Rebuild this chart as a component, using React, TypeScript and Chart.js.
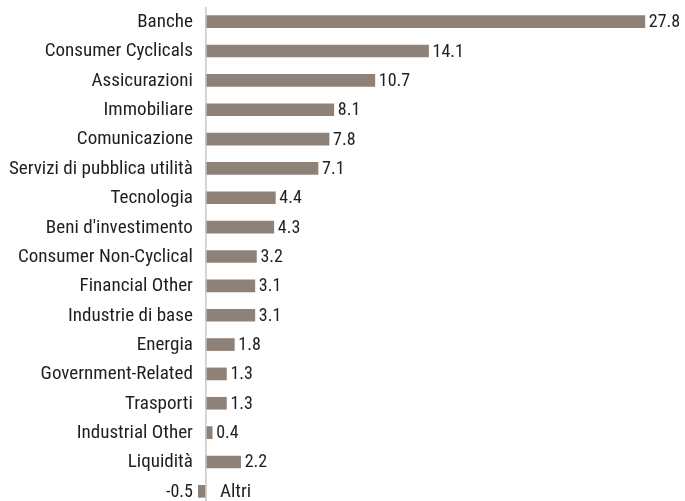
import React, { useEffect, useRef } from "react";
import { Chart, registerables } from "chart.js";

Chart.register(...registerables);

const categories = [
  "Banche",
  "Consumer Cyclicals",
  "Assicurazioni",
  "Immobiliare",
  "Comunicazione",
  "Servizi di pubblica utilità",
  "Tecnologia",
  "Beni d'investimento",
  "Consumer Non-Cyclical",
  "Financial Other",
  "Industrie di base",
  "Energia",
  "Government-Related",
  "Trasporti",
  "Industrial Other",
  "Liquidità",
  "Altri",
];
const values = [27.8, 14.1, 10.7, 8.1, 7.8, 7.1, 4.4, 4.3, 3.2, 3.1, 3.1, 1.8, 1.3, 1.3, 0.4, 2.2, -0.5];

const FONT = '"Liberation Sans Narrow", "Arial Narrow", "Roboto Condensed", sans-serif';
const BAR_COLOR = "#8E8177";

function drawText(ctx: any, text: string, x: number, y: number, align: "left" | "right", sx: number) {
  ctx.save();
  ctx.translate(x, y);
  ctx.scale(sx, 1);
  ctx.textAlign = align;
  ctx.fillText(text, 0, 0);
  ctx.restore();
}

const labelPlugin = {
  id: "customLabels",
  afterDatasetsDraw(chart: any) {
    const ctx = chart.ctx;
    const xs = chart.scales.x;
    const area = chart.chartArea;
    const zero = xs.getPixelForValue(0);
    ctx.save();
    ctx.strokeStyle = "#C8C8C8";
    ctx.lineWidth = 1.5;
    ctx.beginPath();
    ctx.moveTo(zero, area.top);
    ctx.lineTo(zero, area.bottom);
    ctx.stroke();

    const meta = chart.getDatasetMeta(0);
    ctx.fillStyle = "#1f1f1f";
    ctx.textBaseline = "middle";
    meta.data.forEach((bar: any, i: number) => {
      const v = values[i];
      const y = bar.y + 1;
      const end = xs.getPixelForValue(v);
      const valText = v.toFixed(1);
      if (v >= 0) {
        ctx.font = `17.5px ${FONT}`;
        drawText(ctx, categories[i], zero - 13, y, "right", 1.09);
        ctx.font = `18px ${FONT}`;
        drawText(ctx, valText, end + 4, y, "left", 1.0);
      } else {
        ctx.font = `17.5px ${FONT}`;
        drawText(ctx, categories[i], zero + 14, y, "left", 1.09);
        ctx.font = `18px ${FONT}`;
        drawText(ctx, valText, end - 5, y, "right", 1.0);
      }
    });
    ctx.restore();
  },
};

export default function App() {
  const ref = useRef<HTMLCanvasElement | null>(null);
  useEffect(() => {
    if (!ref.current) return;
    const chart = new Chart(ref.current, {
      type: "bar",
      data: {
        labels: categories,
        datasets: [
          {
            data: values,
            backgroundColor: BAR_COLOR,
            barThickness: 12,
          },
        ],
      },
      options: {
        indexAxis: "y",
        animation: false,
        responsive: false,
        layout: { padding: { left: 198, right: 37, top: 7, bottom: 4 } },
        plugins: { legend: { display: false }, tooltip: { enabled: false } },
        scales: {
          x: { display: false, min: -0.5, max: 28 },
          y: { display: false },
        },
      },
      plugins: [labelPlugin],
    });
    return () => chart.destroy();
  }, []);
  return (
    <div style={{ position: "fixed", left: 0, top: 0, width: 685, height: 501, overflow: "hidden", background: "#fff" }}>
      <canvas ref={ref} width={685} height={510} style={{ display: "block" }} />
    </div>
  );
}
